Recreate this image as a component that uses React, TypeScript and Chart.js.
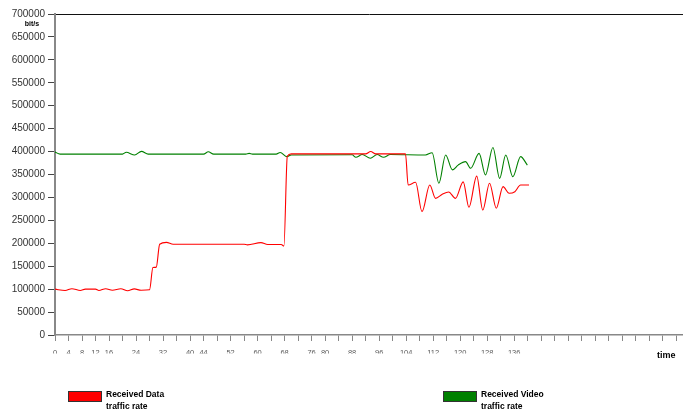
import React, { useEffect, useRef } from 'react';
import { Chart, registerables } from 'chart.js';

Chart.register(...registerables);

// ---- data ----
const RED_TIME = [0, 3, 5, 7.5, 9, 12, 13, 15, 17, 19.5, 21.5, 23.5, 25.5, 28, 29, 30, 31, 33, 35, 56, 57, 61, 63, 67, 67.8, 68.8, 70, 92, 93.5, 95, 103.8, 104.6, 106.8, 108.7, 111, 112.7, 114.7, 116.6, 118.6, 120.9, 122.6, 124.9, 126.7, 128.7, 130.7, 132.7, 134.5, 136.2, 137.9, 140.4];
const RED_RATE = [100000, 97000, 101000, 97000, 100000, 100000, 97000, 101000, 97500, 101000, 96500, 100500, 97500, 98500, 147000, 148000, 198000, 202000, 198000, 198000, 196500, 201500, 197500, 197500, 194000, 390000, 395000, 395000, 400000, 395000, 395000, 327000, 333000, 269000, 327000, 298000, 307000, 312000, 298000, 334000, 278500, 346500, 272500, 331000, 276500, 323500, 309000, 312500, 327000, 327000];

const GREEN_TIME = [0, 1.5, 20, 21.1, 23.6, 25.6, 27.6, 44, 45.4, 47, 56.5, 57.5, 58.5, 65.5, 66.7, 68.7, 70, 88, 89.1, 91, 93.4, 95.4, 97.3, 99.3, 109.7, 111.7, 113.7, 115.7, 117.7, 119.4, 121.6, 123.1, 125.6, 127.5, 129.7, 131.7, 133.5, 135.6, 137.9, 139.9];
const GREEN_RATE = [399000, 394500, 394500, 398500, 392500, 400500, 394500, 394500, 399500, 394500, 394500, 396000, 394500, 394500, 398000, 389000, 392500, 393000, 387500, 393500, 385500, 393500, 387500, 393500, 392500, 397500, 331000, 392500, 360000, 370500, 378000, 363500, 396000, 349000, 409000, 341500, 392500, 345000, 389000, 370500];

const X_TICK_LABELS = [0, 4, 8, 12, 16, 24, 32, 40, 44, 52, 60, 68, 76, 80, 88, 96, 104, 112, 120, 128, 136];
const SERIES_NAMES = ['Received Data traffic rate', 'Received Video traffic rate'];
const SERIES_COLORS = ['#ff0000', '#008000'];
const Y_MAX = 700000;
const Y_STEP = 50000;
const X_MAX = 186;
const X_STEP = 4;
const Y_UNIT = 'bit/s';
const X_TITLE = 'time';

const FONT = '"Liberation Sans", Arial, sans-serif';

const overlayPlugin = {
  id: 'overlay',
  afterDraw(chart: any) {
    const ctx = chart.ctx as CanvasRenderingContext2D;
    const xs = chart.scales.x;
    const area = chart.chartArea;

    // x tick labels (only the top part shows, as in the reference)
    ctx.save();
    ctx.beginPath();
    ctx.rect(0, area.bottom + 8, chart.width, 10.5);
    ctx.clip();
    ctx.font = `7.5px ${FONT}`;
    ctx.fillStyle = '#555';
    ctx.textAlign = 'center';
    ctx.textBaseline = 'top';
    X_TICK_LABELS.forEach((v) => ctx.fillText(String(v), xs.getPixelForValue(v), area.bottom + 14));
    ctx.restore();

    ctx.save();
    ctx.fillStyle = '#000';
    // x title
    ctx.font = `bold 9px ${FONT}`;
    ctx.textAlign = 'left';
    ctx.textBaseline = 'middle';
    ctx.fillText(X_TITLE, area.right - 26, area.bottom + 21);
    // y unit
    ctx.font = `bold 7px ${FONT}`;
    ctx.textAlign = 'center';
    ctx.fillText(Y_UNIT, area.left - 23, area.top + 10);

    // legend
    const legendX = [68, 443];
    const boxTop = area.bottom + 56;
    SERIES_NAMES.forEach((name, i) => {
      const x = legendX[i];
      ctx.fillStyle = SERIES_COLORS[i];
      ctx.fillRect(x, boxTop, 34, 11);
      ctx.strokeStyle = '#333';
      ctx.lineWidth = 1;
      ctx.strokeRect(x + 0.5, boxTop + 0.5, 33, 10);
      const words = name.split(' ');
      const line1 = words.slice(0, 2).join(' ');
      const line2 = words.slice(2).join(' ');
      ctx.fillStyle = '#000';
      ctx.font = `bold 8.5px ${FONT}`;
      ctx.textAlign = 'left';
      ctx.textBaseline = 'middle';
      ctx.fillText(line1, x + 38, boxTop + 4);
      ctx.fillText(line2, x + 38, boxTop + 16);
    });
    ctx.restore();
  },
};

export default function App() {
  const canvasRef = useRef<HTMLCanvasElement | null>(null);

  useEffect(() => {
    if (!canvasRef.current) return;
    const toPoints = (xs: number[], ys: number[]) => xs.map((x, i) => ({ x, y: ys[i] }));
    const chart = new Chart(canvasRef.current, {
      type: 'line',
      data: {
        datasets: [
          {
            label: SERIES_NAMES[0],
            data: toPoints(RED_TIME, RED_RATE),
            borderColor: SERIES_COLORS[0],
            backgroundColor: SERIES_COLORS[0],
            borderWidth: 1.1,
            pointRadius: 0,
            cubicInterpolationMode: 'monotone',
          },
          {
            label: SERIES_NAMES[1],
            data: toPoints(GREEN_TIME, GREEN_RATE),
            borderColor: SERIES_COLORS[1],
            backgroundColor: SERIES_COLORS[1],
            borderWidth: 1.1,
            pointRadius: 0,
            cubicInterpolationMode: 'monotone',
          },
        ],
      },
      options: {
        animation: false,
        responsive: true,
        maintainAspectRatio: false,
        layout: { padding: { top: 14, left: 0, right: 0, bottom: 0 } },
        plugins: { legend: { display: false }, tooltip: { enabled: false } },
        scales: {
          x: {
            type: 'linear',
            min: 0,
            max: X_MAX,
            afterFit: (s: any) => { s.height = 75; },
            ticks: { display: false, stepSize: X_STEP, includeBounds: false },
            grid: {
              display: true,
              drawOnChartArea: false,
              drawTicks: true,
              tickLength: 6,
              tickColor: '#888',
              tickWidth: 1,
            },
            border: { display: true, color: '#888', width: 1.5 },
          },
          y: {
            min: 0,
            max: Y_MAX,
            afterFit: (s: any) => { s.width = 55; },
            ticks: {
              stepSize: Y_STEP,
              padding: 3,
              color: '#333',
              font: { family: FONT, size: 10 },
              callback: (v: any) => String(v),
            },
            grid: {
              drawTicks: true,
              tickLength: 7,
              tickColor: '#444',
              color: (c: any) => (c.tick && c.tick.value === Y_MAX ? '#111' : 'rgba(0,0,0,0)'),
              lineWidth: 1,
            },
            border: { display: true, color: '#888', width: 2 },
          },
        },
      },
      plugins: [overlayPlugin],
    } as any);
    return () => chart.destroy();
  }, []);

  return (
    <div style={{ position: 'fixed', left: 0, top: 0, width: 683, height: 410, background: '#fff' }}>
      <canvas ref={canvasRef} />
    </div>
  );
}
